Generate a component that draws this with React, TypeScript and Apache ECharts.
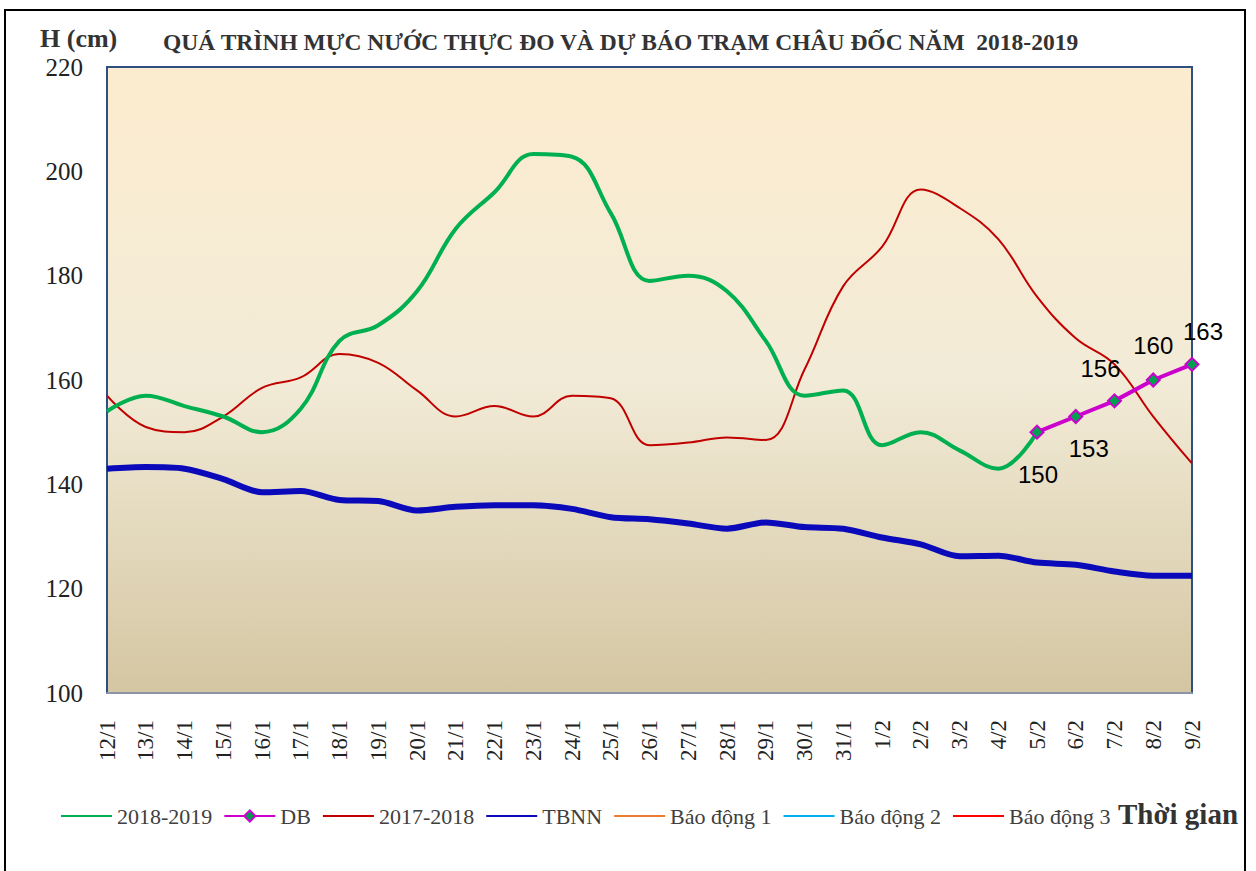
import React, { useEffect, useRef } from "react";
import * as echarts from "echarts";

const categories = [
  "12/1", "13/1", "14/1", "15/1", "16/1", "17/1", "18/1", "19/1", "20/1", "21/1",
  "22/1", "23/1", "24/1", "25/1", "26/1", "27/1", "28/1", "29/1", "30/1", "31/1",
  "1/2", "2/2", "3/2", "4/2", "5/2", "6/2", "7/2", "8/2", "9/2",
];

// Observed 2018-2019 (12/1 .. 5/2)
const obs20182019 = [
  154, 157, 155, 153, 150, 154.5, 167.5, 170.5, 177, 189,
  196, 203.3, 202.8, 192, 179, 180, 177, 167.5, 157, 158,
  147.5, 150, 146.5, 143, 150,
];

// Forecast (DB) 5/2 .. 9/2
const dbStartIndex = 24;
const dbValues = [150, 153, 156, 160, 163];

const obs20172018 = [
  157, 151, 150, 153, 158.5, 160.5, 165, 163.3, 158, 153,
  155, 153, 157, 156.5, 147.5, 148, 149, 148.5, 162, 178,
  185.5, 196.5, 193, 187, 176, 168, 163, 153, 144,
];

const tbnn = [
  143, 143.3, 143, 141, 138.5, 138.7, 137, 136.8, 135, 135.7,
  136, 136, 135.3, 133.7, 133.3, 132.5, 131.5, 132.7, 131.8, 131.5,
  129.8, 128.5, 126.2, 126.3, 125, 124.6, 123.3, 122.5, 122.5,
];

const legendNames = ["2018-2019", "DB", "2017-2018", "TBNN", "Báo động 1", "Báo động 2", "Báo động 3"];

const yMin = 100;
const yMax = 220;
const yStep = 20;

// label offsets (style) for DB labels
const dbLabelOffsets = [
  [1, 42],
  [13, 32],
  [-14, -32],
  [0, -35],
  [11, -33],
];

const SERIF = "'Liberation Serif', 'Times New Roman', serif";

export default function App() {
  const ref = useRef<HTMLDivElement>(null);

  useEffect(() => {
    if (!ref.current) return;
    const chart = echarts.init(ref.current, undefined, { renderer: "svg" });

    const dbData = categories.map((_, i) => {
      const k = i - dbStartIndex;
      if (k < 0 || k >= dbValues.length) return null;
      return {
        value: dbValues[k],
        label: {
          show: true,
          position: "inside",
          offset: dbLabelOffsets[k],
          formatter: "{c}",
          fontFamily: "'Liberation Sans', Arial, sans-serif",
          fontSize: 24,
          color: "#000",
        },
      };
    });

    chart.setOption({
      animation: false,
      backgroundColor: "#ffffff",
      title: {
        text: "QUÁ TRÌNH MỰC NƯỚC THỰC ĐO VÀ DỰ BÁO TRẠM CHÂU ĐỐC NĂM  2018-2019",
        left: 163,
        top: 30,
        padding: 0,
        textStyle: {
          fontFamily: SERIF,
          fontWeight: "bold",
          fontSize: 23.5,
          color: "#333",
        },
      },
      graphic: [
        {
          type: "rect",
          shape: { x: 5, y: 10, width: 1240, height: 900 },
          style: { fill: "none", stroke: "#000", lineWidth: 2 },
          silent: true,
          z: 100,
        },
        {
          type: "text",
          left: 40,
          top: 25,
          style: {
            text: "H (cm)",
            font: `bold 26px ${SERIF}`,
            fill: "#333",
          },
        },
        {
          type: "text",
          left: 1118,
          top: 799,
          style: {
            text: "Thời gian",
            font: `bold 29px ${SERIF}`,
            fill: "#333",
          },
        },
      ],
      legend: {
        left: 55,
        top: 800,
        itemWidth: 51,
        itemHeight: 14,
        itemGap: 11,
        textStyle: { fontFamily: SERIF, fontSize: 22, color: "#404040" },
        data: legendNames.map((n) =>
          n === "DB" ? { name: n } : { name: n, itemStyle: { opacity: 0 } }
        ),
      },
      grid: {
        left: 107,
        right: 64,
        top: 67,
        bottom: 178,
        show: true,
        borderColor: "#2E5080",
        borderWidth: 2,
        backgroundColor: new echarts.graphic.LinearGradient(0, 0, 0, 1, [
          { offset: 0, color: "#FCECCF" },
          { offset: 0.5, color: "#F2EBD7" },
          { offset: 1, color: "#D4C6A2" },
        ]),
      },
      xAxis: {
        type: "category",
        data: categories,
        boundaryGap: false,
        axisLine: { show: true, lineStyle: { color: "#8A96A8", width: 2 } },
        axisTick: { show: false },
        splitLine: { show: false },
        axisLabel: {
          rotate: 90,
          margin: 27,
          interval: 0,
          fontFamily: SERIF,
          fontSize: 23,
          color: "#222",
        },
      },
      yAxis: {
        type: "value",
        min: yMin,
        max: yMax,
        interval: yStep,
        axisLine: { show: true, lineStyle: { color: "#2E5080", width: 2 } },
        axisTick: { show: false },
        splitLine: { show: false },
        axisLabel: {
          margin: 24,
          fontFamily: SERIF,
          fontSize: 25,
          color: "#222",
        },
      },
      series: [
        {
          name: "2018-2019",
          type: "line",
          data: obs20182019,
          smooth: 0.4,
          symbol: "none",
          lineStyle: { color: "#00B050", width: 4 },
          itemStyle: { color: "#00B050" },
          z: 4,
        },
        {
          name: "DB",
          type: "line",
          data: dbData,
          smooth: false,
          symbol: "diamond",
          symbolSize: 13,
          showSymbol: true,
          lineStyle: { color: "#CC00CC", width: 4 },
          itemStyle: { color: "#00A050", borderColor: "#CC00CC", borderWidth: 2 },
          z: 5,
        },
        {
          name: "2017-2018",
          type: "line",
          data: obs20172018,
          smooth: 0.4,
          symbol: "none",
          lineStyle: { color: "#C00000", width: 2 },
          itemStyle: { color: "#C00000" },
          z: 3,
        },
        {
          name: "TBNN",
          type: "line",
          data: tbnn,
          smooth: 0.3,
          symbol: "none",
          lineStyle: { color: "#0A0ABA", width: 6 },
          itemStyle: { color: "#0A0ABA" },
          z: 3,
        },
        {
          name: "Báo động 1",
          type: "line",
          data: [],
          symbol: "none",
          lineStyle: { color: "#ED7D31", width: 2 },
          itemStyle: { color: "#ED7D31" },
        },
        {
          name: "Báo động 2",
          type: "line",
          data: [],
          symbol: "none",
          lineStyle: { color: "#00B0F0", width: 2 },
          itemStyle: { color: "#00B0F0" },
        },
        {
          name: "Báo động 3",
          type: "line",
          data: [],
          symbol: "none",
          lineStyle: { color: "#FF0000", width: 2 },
          itemStyle: { color: "#FF0000" },
        },
      ],
    });

    return () => chart.dispose();
  }, []);

  return <div ref={ref} style={{ width: 1256, height: 871, position: "absolute", left: 0, top: 0 }} />;
}
